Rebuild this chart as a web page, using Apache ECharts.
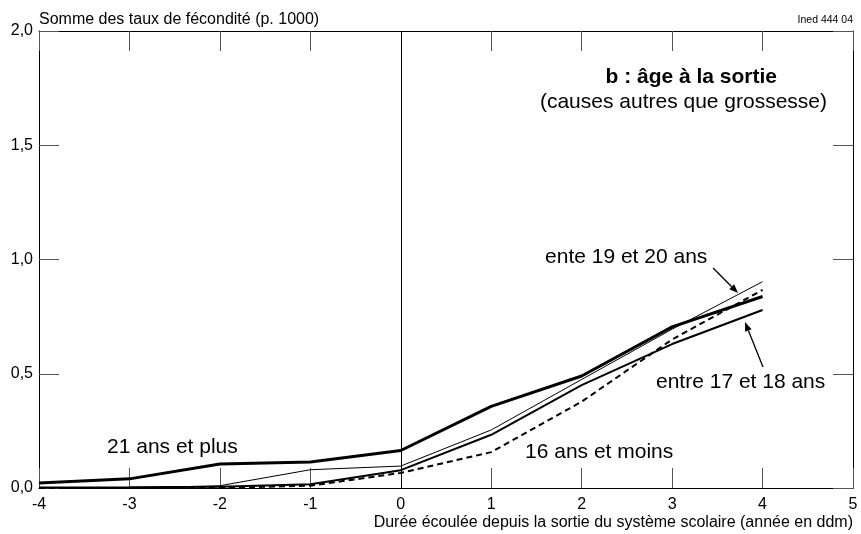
<!DOCTYPE html>
<html><head><meta charset="utf-8">
<script src="https://cdn.jsdelivr.net/npm/echarts@6/dist/echarts.min.js"></script>
<style>html,body{margin:0;padding:0;background:#fff}#c{width:861px;height:534px}</style>
</head><body><div id="c"></div>
<script>
var years = [-4, -3, -2, -1, 0, 1, 2, 3, 4];
var s21plus = [0.022, 0.04, 0.105, 0.114, 0.164, 0.357, 0.49, 0.705, 0.838];
var s19_20 = [0.0, 0.0, 0.01, 0.08, 0.096, 0.254, 0.475, 0.695, 0.903];
var s17_18 = [0.002, 0.003, 0.006, 0.016, 0.078, 0.233, 0.45, 0.63, 0.779];
var s16moins = [0.0, 0.0, 0.0, 0.01, 0.066, 0.157, 0.378, 0.65, 0.867];
var yTicks = [0, 0.5, 1.0, 1.5, 2.0];
var xTicks = [-4, -3, -2, -1, 0, 1, 2, 3, 4, 5];

function pairs(v){ return years.map(function(x,i){ return [x, v[i]]; }); }
var FONT = 'Liberation Sans, Arial, sans-serif';
var chart = echarts.init(document.getElementById('c'));
function axisCommon(){ return {
  axisLine:{show:true, onZero:false, lineStyle:{color:'#000', width:1}},
  axisTick:{show:true, inside:true, length:20, lineStyle:{color:'#555', width:1}},
  splitLine:{show:false}
};}
chart.setOption({
  animation:false,
  backgroundColor:'#fff',
  grid:{left:39, right:8, top:31, bottom:46},
  xAxis:[
    Object.assign({type:'value', min:-4, max:5, interval:1, position:'bottom',
      axisLabel:{color:'#000', fontSize:16, fontFamily:FONT, margin:9},
      name:'Durée écoulée depuis la sortie du système scolaire (année en ddm)',
      nameLocation:'end', nameGap:0,
      nameTextStyle:{color:'#000', fontSize:16, fontFamily:FONT, align:'right', verticalAlign:'top', padding:[27,0,0,0]}
    }, axisCommon()),
    Object.assign({type:'value', min:-4, max:5, interval:1, position:'top', axisLabel:{show:false}}, axisCommon())
  ],
  yAxis:[
    Object.assign({type:'value', min:0, max:2, interval:0.5, position:'left',
      axisLabel:{color:'#000', fontSize:16, fontFamily:FONT, margin:6,
        formatter:function(v){ return v.toFixed(1).replace('.',','); }},
      name:'Somme des taux de fécondité (p. 1000)', nameLocation:'end', nameGap:11,
      nameTextStyle:{color:'#000', fontSize:16, fontFamily:FONT, align:'left', verticalAlign:'middle'}
    }, axisCommon()),
    Object.assign({type:'value', min:0, max:2, interval:0.5, position:'right', axisLabel:{show:false}}, axisCommon())
  ],
  series:[
    {name:'21 ans et plus', type:'line', data:pairs(s21plus), symbol:'none',
      lineStyle:{color:'#000', width:3},
      markLine:{silent:true, symbol:'none', label:{show:false},
        lineStyle:{color:'#000', width:1, type:'solid'}, data:[{xAxis:0}]}},
    {name:'ente 19 et 20 ans', type:'line', data:pairs(s19_20), symbol:'none',
      lineStyle:{color:'#000', width:1}},
    {name:'entre 17 et 18 ans', type:'line', data:pairs(s17_18), symbol:'none',
      lineStyle:{color:'#000', width:2}},
    {name:'16 ans et moins', type:'line', data:pairs(s16moins), symbol:'none',
      lineStyle:{color:'#000', width:2, type:[6,4]}}
  ]
});

function px(x,y){ return chart.convertToPixel({xAxisIndex:0,yAxisIndex:0},[x,y]); }
function txt(p, s, opts){
  return {type:'text', x:p[0], y:p[1], style:Object.assign({text:s, fill:'#000', font:'21px '+FONT, textAlign:'left', textVerticalAlign:'middle'}, opts||{})};
}
function arrow(a, b){
  var dx=b[0]-a[0], dy=b[1]-a[1], L=Math.sqrt(dx*dx+dy*dy), ux=dx/L, uy=dy/L;
  var h=9, w=3.5;
  var base=[b[0]-ux*h, b[1]-uy*h];
  return [
    {type:'line', shape:{x1:a[0], y1:a[1], x2:base[0], y2:base[1]}, style:{stroke:'#000', lineWidth:1.3}},
    {type:'polygon', shape:{points:[b,[base[0]-uy*w, base[1]+ux*w],[base[0]+uy*w, base[1]-ux*w]]}, style:{fill:'#000'}}
  ];
}
var els = [
  txt(px(-3.248,0.179), '21 ans et plus'),
  txt(px(1.374,0.158), '16 ans et moins'),
  txt(px(1.595,1.011), 'ente 19 et 20 ans'),
  txt(px(2.822,0.464), 'entre 17 et 18 ans'),
  txt(px(4.160,1.799), 'b : âge à la sortie', {font:'bold 21px '+FONT, textAlign:'right'}),
  txt(px(4.713,1.689), '(causes autres que grossesse)', {textAlign:'right'}),
  {type:'text', x:853, y:20, style:{text:'Ined 444 04', fill:'#000', font:'10.5px '+FONT, textAlign:'right', textVerticalAlign:'middle'}}
];
els = els.concat(arrow(px(3.453,0.963), px(3.729,0.853)));
els = els.concat(arrow(px(4.005,0.53), px(3.806,0.726)));
chart.setOption({graphic:{elements:els}});
</script></body></html>
